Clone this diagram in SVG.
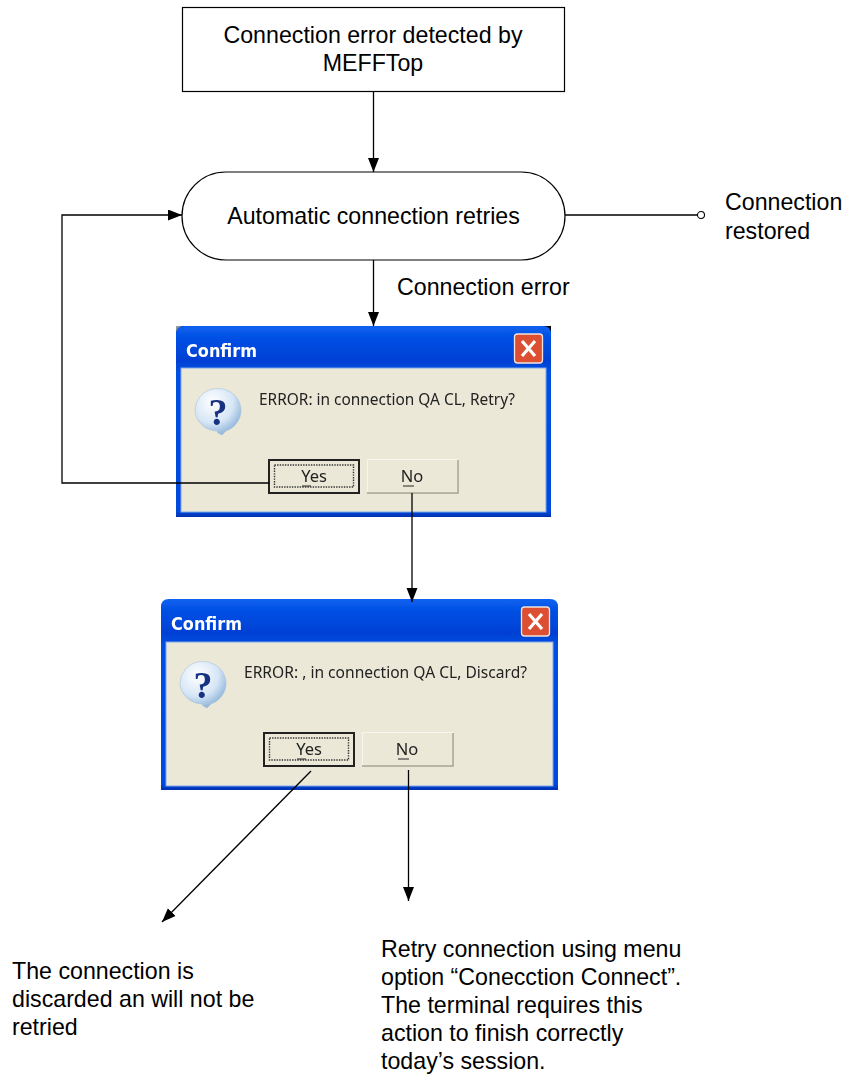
<svg xmlns="http://www.w3.org/2000/svg" width="845" height="1075" viewBox="0 0 845 1075">
<style>
.t{font-family:"Liberation Sans",Arial,sans-serif;font-size:23.2px;fill:#000}
.n{fill:#fff;stroke:#000;stroke-width:1.2}
.c{fill:none;stroke:#000;stroke-width:1.3}
.frame{fill:url(#bar)}
.client{fill:#ebe8d8;stroke:#7fa8ea;stroke-width:1}
.title{font-family:"DejaVu Sans",sans-serif;font-weight:bold;font-size:18px;fill:#fff}
.msg{font-family:"Noto Sans",sans-serif;font-size:16.5px;fill:#222}
.btn{font-family:"Noto Sans",sans-serif;font-size:16.5px;fill:#222;text-anchor:middle}
.close{fill:#dc5030;stroke:#f3e3dc;stroke-width:1.3}
.x{fill:none;stroke:#fff;stroke-width:3.2}
.bub{fill:url(#bubble);stroke:#a9c2d8;stroke-width:.6}
.q{font-family:"Liberation Serif",serif;font-weight:bold;font-size:38px;fill:#123080;text-anchor:middle}
.soft{filter:url(#soft)}
.dot{fill:none;stroke:#333;stroke-width:1.4;stroke-dasharray:1.4 1.2}
</style>
<defs>
<filter id="soft" x="-2%" y="-2%" width="104%" height="104%"><feGaussianBlur stdDeviation="0.35"/></filter>
<marker id="a" markerWidth="15" markerHeight="12" refX="14" refY="5.5" orient="auto" markerUnits="userSpaceOnUse"><path d="M0 0L14 5.5L0 11Z" fill="#000"/></marker>
<marker id="o" markerWidth="10" markerHeight="10" refX="5" refY="5" orient="auto" markerUnits="userSpaceOnUse"><circle cx="5" cy="5" r="3.5" fill="#fff" stroke="#000" stroke-width="1.1"/></marker>
<linearGradient id="bar" x1="0" y1="0" x2="0" y2="1"><stop offset="0" stop-color="#0a62f0"/><stop offset=".06" stop-color="#0450e4"/><stop offset=".18" stop-color="#0040d4"/><stop offset=".24" stop-color="#0050e0"/><stop offset=".97" stop-color="#0048dc"/><stop offset="1" stop-color="#0030b0"/></linearGradient>
<radialGradient id="bubble" cx=".38" cy=".3" r=".75"><stop offset="0" stop-color="#fff"/><stop offset=".6" stop-color="#d6e6f6"/><stop offset="1" stop-color="#86aed6"/></radialGradient>
</defs>

<g id="node-detected">
<rect class="n" x="182.500" y="7.500" width="382" height="84"/>
<text class="t" x="373" y="43" text-anchor="middle">Connection error detected by</text>
<text class="t" x="373" y="71" text-anchor="middle">MEFFTop</text>
</g>
<g id="node-retries">
<rect class="n" x="182" y="172" width="383" height="88" rx="44" ry="44"/>
<text class="t" x="373.500" y="224" text-anchor="middle">Automatic connection retries</text>
</g>
<g id="label-restored">
<text class="t" x="725" y="210">Connection</text>
<text class="t" x="725" y="239">restored</text>
</g>
<g id="label-error"><text class="t" x="397" y="295">Connection error</text></g>

<g id="dialog-retry" class="soft">
<rect x="176" y="326" width="375" height="191" fill="#000"/>
<path d="M176 326h6l-6 6z" fill="#999"/>
<path class="frame" d="M176 517V334Q176 326 184 326H543Q551 326 551 334V517Z"/>
<rect x="181" y="368" width="365" height="144" class="client"/>
<text class="title" x="186" y="357" textLength="71" lengthAdjust="spacingAndGlyphs">Confirm</text>
<rect class="close" x="514.500" y="334" width="28" height="29" rx="3"/>
<path class="x" d="M522 341L535 356M535 341L522 356"/>
<path class="bub" d="M195 411a23 22 0 1 1 31 20l-4 4-4-2-1-2a23 22 0 0 1-22-20z"/>
<text class="q" x="218" y="425">?</text>
<text class="msg" x="259" y="405" textLength="256" lengthAdjust="spacingAndGlyphs">ERROR: in connection QA CL, Retry?</text>
<rect x="269" y="460" width="90" height="33" fill="#ebe8d8" stroke="#222" stroke-width="2"/>
<rect x="274.500" y="465" width="79" height="22" class="dot"/>
<text class="btn" x="314" y="482">Yes</text>
<path d="M302 486h9" stroke="#222" fill="none"/>
<rect x="367.500" y="459.500" width="90" height="33" fill="#ebe8d8" stroke="#f7f6ee"/>
<path d="M458 460V493H367" stroke="#a5a28f" fill="none" stroke-width="1.500"/>
<text class="btn" x="412" y="482">No</text>
<path d="M403 486h11" stroke="#222" fill="none"/>
</g>

<g id="dialog-discard" class="soft">
<path class="frame" d="M161 790V607Q161 599 169 599H550Q558 599 558 607V790Z"/>
<rect x="166" y="642" width="387" height="144" class="client"/>
<text class="title" x="171" y="630" textLength="71" lengthAdjust="spacingAndGlyphs">Confirm</text>
<rect class="close" x="521.500" y="607" width="28" height="29" rx="3"/>
<path class="x" d="M529 614L542 629M542 614L529 629"/>
<path class="bub" d="M180 684a23 22 0 1 1 31 20l-4 4-4-2-1-2a23 22 0 0 1-22-20z"/>
<text class="q" x="203" y="698">?</text>
<text class="msg" x="244" y="678" textLength="283" lengthAdjust="spacingAndGlyphs">ERROR: , in connection QA CL, Discard?</text>
<rect x="264" y="733" width="90" height="33" fill="#ebe8d8" stroke="#222" stroke-width="2"/>
<rect x="269.500" y="738" width="79" height="22" class="dot"/>
<text class="btn" x="309" y="755">Yes</text>
<path d="M297 759h9" stroke="#222" fill="none"/>
<rect x="362.500" y="732.500" width="90" height="33" fill="#ebe8d8" stroke="#f7f6ee"/>
<path d="M453 733V766H362" stroke="#a5a28f" fill="none" stroke-width="1.500"/>
<text class="btn" x="407" y="755">No</text>
<path d="M398 759h11" stroke="#222" fill="none"/>
</g>

<g id="connectors">
<path class="c" d="M373.500 92V172" marker-end="url(#a)"/>
<path class="c" d="M373.500 260V326" marker-end="url(#a)"/>
<path class="c" d="M565 215H701" marker-end="url(#o)"/>
<path class="c" d="M269 483H62V215H182" marker-end="url(#a)"/>
<path class="c" d="M412 493V602" marker-end="url(#a)"/>
<path class="c" d="M311 771L162 922" marker-end="url(#a)"/>
<path class="c" d="M408.500 770V901" marker-end="url(#a)"/>
</g>

<g id="label-discarded">
<text class="t" x="12" y="979">The connection is</text>
<text class="t" x="12" y="1007">discarded an will not be</text>
<text class="t" x="12" y="1035">retried</text>
</g>
<g id="label-retry">
<text class="t" x="381" y="957">Retry connection using menu</text>
<text class="t" x="381" y="985">option “Conecction Connect”.</text>
<text class="t" x="381" y="1013">The terminal requires this</text>
<text class="t" x="381" y="1041">action to finish correctly</text>
<text class="t" x="381" y="1069">today’s session.</text>
</g>
</svg>
